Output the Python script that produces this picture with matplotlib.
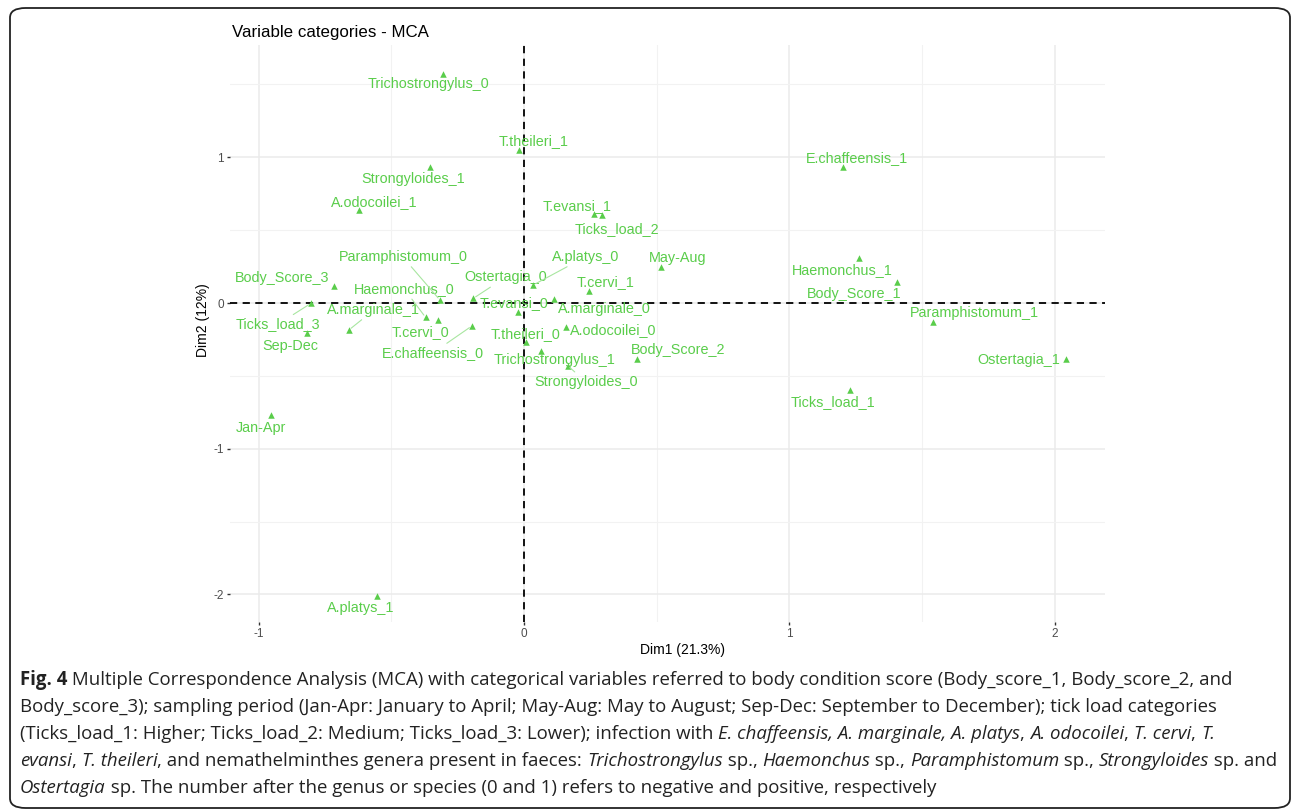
import matplotlib
matplotlib.use('Agg')
import matplotlib.pyplot as plt
from matplotlib.patches import FancyBboxPatch

# MCA variable categories (coordinates)
categories = ['Trichostrongylus_0', 'T.theileri_1', 'E.chaffeensis_1', 'Strongyloides_1',
              'A.odocoilei_1', 'T.evansi_1', 'Ticks_load_2', 'May-Aug', 'Haemonchus_1',
              'Body_Score_1', 'Paramphistomum_1', 'Ostertagia_1', 'Ticks_load_1', 'Jan-Apr',
              'A.platys_1', 'Body_Score_3', 'Ticks_load_3', 'Sep-Dec', 'A.marginale_1',
              'Haemonchus_0', 'T.cervi_0', 'Paramphistomum_0', 'Ostertagia_0',
              'E.chaffeensis_0', 'T.evansi_0', 'A.platys_0', 'T.theileri_0', 'A.marginale_0',
              'T.cervi_1', 'A.odocoilei_0', 'Trichostrongylus_1', 'Strongyloides_0',
              'Body_Score_2']
dim1 = [-0.305, -0.018, 1.204, -0.354, -0.622, 0.264, 0.295, 0.515, 1.264, 1.405, 1.543,
        2.043, 1.229, -0.955, -0.553, -0.716, -0.803, -0.817, -0.660, -0.371, -0.325,
        -0.317, -0.191, -0.197, -0.024, 0.035, 0.006, 0.113, 0.246, 0.157, 0.063, 0.165,
        0.427]
dim2 = [1.572, 1.050, 0.936, 0.933, 0.638, 0.611, 0.607, 0.245, 0.309, 0.142, -0.128,
        -0.387, -0.599, -0.767, -2.011, 0.120, -0.002, -0.208, -0.185, -0.098, -0.119,
        0.021, 0.032, -0.158, -0.060, 0.124, -0.266, 0.027, 0.085, -0.167, -0.330, -0.430,
        -0.386]
xticks = [-1, 0, 1, 2]
yticks = [-2, -1, 0, 1]

# label placement (pixel offsets from the point, repel-like), True = draw a segment
label_pos = {
    'Trichostrongylus_0': (-15, -10, False), 'T.theileri_1': (14, 9, False),
    'E.chaffeensis_1': (14, 9, False), 'Strongyloides_1': (-17, -12, False),
    'A.odocoilei_1': (15, 8, False), 'T.evansi_1': (-17, 8, False),
    'Ticks_load_2': (15, -14, False), 'May-Aug': (17, 9, False),
    'Haemonchus_1': (-17, -12, False), 'Body_Score_1': (-43, -12, False),
    'Paramphistomum_1': (41, 9, False), 'Ostertagia_1': (-47, -1, False),
    'Ticks_load_1': (-17, -12, False), 'Jan-Apr': (-10, -13, False),
    'A.platys_1': (-17, -12, False), 'Body_Score_3': (-52, 8, False),
    'Ticks_load_3': (-33, -21, True), 'Sep-Dec': (-17, -13, False),
    'A.marginale_1': (25, 20, True), 'Haemonchus_0': (-21, 28, True),
    'T.cervi_0': (-17, -12, False), 'Paramphistomum_0': (-37, 43, True),
    'Ostertagia_0': (32, 21, True), 'E.chaffeensis_0': (-39, -27, True),
    'T.evansi_0': (-4, 9, False), 'A.platys_0': (52, 28, True),
    'T.theileri_0': (0, 8, False), 'A.marginale_0': (50, -10, False),
    'T.cervi_1': (16, 9, False), 'A.odocoilei_0': (48, -3, False),
    'Trichostrongylus_1': (14, -9, False), 'Strongyloides_0': (18, -16, True),
    'Body_Score_2': (41, 9, False),
}

W, H = 1292, 810
green = '#5ACD4B'
plt.rcParams['font.family'] = ['Liberation Sans', 'DejaVu Sans']
plt.rcParams['axes.unicode_minus'] = False

fig = plt.figure(figsize=(W / 100, H / 100), dpi=100)
fig.patches.append(FancyBboxPatch((10 / W, 1 - 808 / H), 1280 / W, 800 / H,
                                  boxstyle='round,pad=0,rounding_size=0.012',
                                  transform=fig.transFigure, fill=False,
                                  edgecolor='#222222', lw=1.3))

ax = fig.add_axes([230 / W, 1 - 622 / H, 875 / W, 577 / H])
ax.set_xlim(-1.108, 2.190)
ax.set_ylim(-2.189, 1.771)
for s in ax.spines.values():
    s.set_visible(False)
ax.set_xticks(xticks)
ax.set_yticks(yticks)
ax.set_xticks([-0.5, 0.5, 1.5], minor=True)
ax.set_yticks([-1.5, -0.5, 0.5, 1.5], minor=True)
ax.grid(which='major', color='#EBEBEB', lw=1.1)
ax.grid(which='minor', color='#F2F2F2', lw=0.8)
ax.set_axisbelow(True)
ax.tick_params(which='major', length=2.5, width=1, color='#333333',
               labelcolor='#4D4D4D', labelsize=8.5, pad=2)
ax.tick_params(which='minor', length=0)

ax.axhline(0, color='black', ls=(0, (4, 3)), lw=1.3)
ax.axvline(0, color='black', ls=(0, (4, 3)), lw=1.3)

ax.scatter(dim1, dim2, marker='^', s=22, color=green, zorder=3, linewidths=0)

for name, x, y in zip(categories, dim1, dim2):
    dx, dy, seg = label_pos[name]
    props = None
    if seg:
        props = dict(arrowstyle='-', color='#A8E6A0', lw=0.8, shrinkA=0, shrinkB=2)
    ax.annotate(name, (x, y), xytext=(dx, dy), textcoords='offset pixels',
                ha='center', va='center', fontsize=10.4, color=green,
                arrowprops=props, zorder=4)

fig.text(232 / W, 1 - 32 / H, 'Variable categories - MCA', fontsize=12.2,
         ha='left', va='center', color='black')
fig.text(683 / W, 1 - 650 / H, 'Dim1 (21.3%)', fontsize=10, ha='center', va='center')
fig.text(203 / W, 1 - 320 / H, 'Dim2 (12%)', fontsize=10, ha='center', va='center',
         rotation=90)

# caption with mixed bold / italic runs
caption = [
    [('Fig. 4', 'bold'), (' Multiple Correspondence Analysis (MCA) with categorical variables '
                          'referred to body condition score (Body_score_1, Body_score_2, and', '')],
    [('Body_score_3); sampling period (Jan-Apr: January to April; May-Aug: May to August; '
      'Sep-Dec: September to December); tick load categories', '')],
    [('(Ticks_load_1: Higher; Ticks_load_2: Medium; Ticks_load_3: Lower); infection with ', ''),
     ('E. chaffeensis, A. marginale, A. platys', 'italic'), (', ', ''),
     ('A. odocoilei', 'italic'), (', ', ''), ('T. cervi', 'italic'), (', ', ''),
     ('T.', 'italic')],
    [('evansi', 'italic'), (', ', ''), ('T. theileri', 'italic'),
     (', and nemathelminthes genera present in faeces: ', ''),
     ('Trichostrongylus', 'italic'), (' sp., ', ''), ('Haemonchus', 'italic'), (' sp., ', ''),
     ('Paramphistomum', 'italic'), (' sp., ', ''), ('Strongyloides', 'italic'), (' sp. and', '')],
    [('Ostertagia', 'italic'), (' sp. The number after the genus or species (0 and 1) refers '
                                'to negative and positive, respectively', '')],
]
renderer = fig.canvas.get_renderer()
base = 685
for i, line in enumerate(caption):
    x = 20
    y = 1 - (base + 27 * i) / H
    for txt, style in line:
        t = fig.text(x / W, y, txt, fontsize=13.45, family=['Open Sans', 'DejaVu Sans'],
                     color='#222222', va='baseline', ha='left',
                     fontweight='bold' if style == 'bold' else 'normal',
                     fontstyle='italic' if style == 'italic' else 'normal')
        x += t.get_window_extent(renderer).width

fig.savefig('out.png', dpi=100)
